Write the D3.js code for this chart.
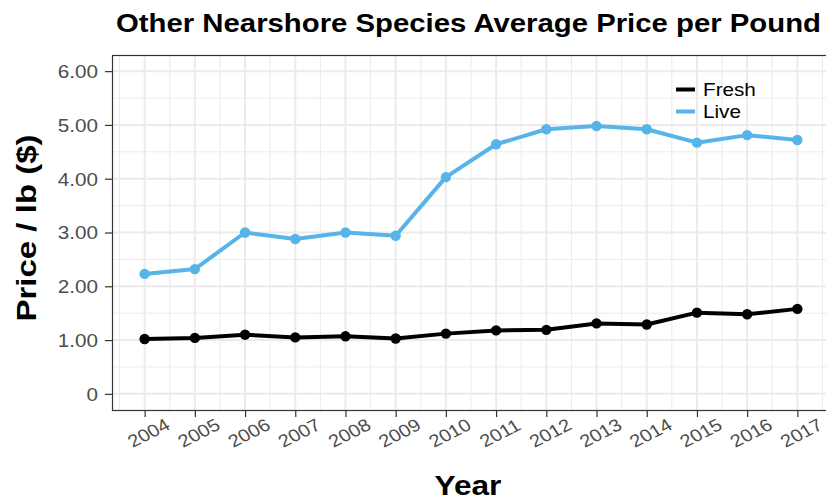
<!DOCTYPE html>
<html><head><meta charset="utf-8">
<script src="https://cdn.jsdelivr.net/npm/d3@7"></script>
<style>body{margin:0;background:#fff;} svg{display:block;font-family:"Liberation Sans",Arial,sans-serif;}</style>
</head><body>
<svg id="c" width="826" height="502"></svg>
<script>
const years = [2004,2005,2006,2007,2008,2009,2010,2011,2012,2013,2014,2015,2016,2017];
const fresh = [1.02,1.04,1.10,1.05,1.07,1.03,1.12,1.18,1.19,1.31,1.29,1.51,1.48,1.58];
const live  = [2.23,2.32,3.00,2.88,3.00,2.94,4.03,4.64,4.92,4.98,4.92,4.67,4.81,4.72];
const seriesNames = ["Fresh","Live"];
const seriesColors = ["#000000","#56B4E9"];
const yTicks = [0,1,2,3,4,5,6];
const yTickLabels = ["0","1.00","2.00","3.00","4.00","5.00","6.00"];
const title = "Other Nearshore Species Average Price per Pound";

const SX = 1.15; // horizontal text stretch seen in the reference
const svg = d3.select("#c");
const L=112, R=830, T=55, B=410;
const x = d3.scaleLinear().domain([2004-0.65, 2017+0.65]).range([L,R]);
const y = d3.scaleLinear().domain([-0.3, 6.3]).range([B,T]);

const g = svg.append("g");
const xMinor = d3.range(2003.5, 2018, 1);
const yMinor = d3.range(0.5, 6.5, 1);
g.selectAll(".xm").data(xMinor).enter().append("line")
 .attr("x1",d=>x(d)).attr("x2",d=>x(d)).attr("y1",T).attr("y2",B)
 .attr("stroke","#ebebeb").attr("stroke-width",1);
g.selectAll(".ym").data(yMinor).enter().append("line")
 .attr("x1",L).attr("x2",R).attr("y1",d=>y(d)).attr("y2",d=>y(d))
 .attr("stroke","#ebebeb").attr("stroke-width",1);
g.selectAll(".xM").data(years).enter().append("line")
 .attr("x1",d=>x(d)).attr("x2",d=>x(d)).attr("y1",T).attr("y2",B)
 .attr("stroke","#ebebeb").attr("stroke-width",2);
g.selectAll(".yM").data(yTicks).enter().append("line")
 .attr("x1",L).attr("x2",R).attr("y1",d=>y(d)).attr("y2",d=>y(d))
 .attr("stroke","#ebebeb").attr("stroke-width",2);

const line = d3.line().x((d,i)=>x(years[i])).y(d=>y(d));
[fresh, live].forEach((s,k)=>{
  g.append("path").datum(s).attr("d",line).attr("fill","none")
   .attr("stroke",seriesColors[k]).attr("stroke-width",4).attr("stroke-linejoin","round");
  g.selectAll(".p"+k).data(s).enter().append("circle")
   .attr("cx",(d,i)=>x(years[i])).attr("cy",d=>y(d)).attr("r",5.2).attr("fill",seriesColors[k]);
});

svg.append("rect").attr("x",L+0.5).attr("y",T+0.5).attr("width",R-L).attr("height",B-T)
 .attr("fill","none").attr("stroke","#333333").attr("stroke-width",1.2);

// y axis
const yAxis = d3.axisLeft(y).tickValues(yTicks).tickFormat((d,i)=>yTickLabels[i]).tickSize(7).tickPadding(0);
const ya = svg.append("g").attr("transform",`translate(${L},0)`).call(yAxis);
ya.select(".domain").remove();
ya.selectAll("line").attr("stroke","#333333").attr("stroke-width",1.2);
ya.selectAll("text").attr("fill","#4d4d4d").style("font-size","18px").style("font-family","Liberation Sans, Arial, sans-serif")
  .attr("x",null).attr("dy",null).attr("dominant-baseline","central")
  .attr("transform",`translate(-14,0) scale(${SX},1)`);

// x axis
const xAxis = d3.axisBottom(x).tickValues(years).tickFormat(d3.format("d")).tickSize(7);
const xa = svg.append("g").attr("transform",`translate(0,${B})`).call(xAxis);
xa.select(".domain").remove();
xa.selectAll("line").attr("stroke","#333333").attr("stroke-width",1.2);
xa.selectAll("text").attr("fill","#4d4d4d").style("font-size","17.5px").style("font-family","Liberation Sans, Arial, sans-serif")
  .attr("text-anchor","middle").attr("dy",null).attr("y",0)
  .attr("transform",`translate(3.5,23) scale(${SX},1) rotate(-30)`).attr("dominant-baseline","central");

// titles
svg.append("text").attr("transform",`translate(468.5,31.5) scale(${SX},1)`).attr("text-anchor","middle")
 .style("font-size","25.5px").style("font-weight","bold").text(title);
svg.append("text").attr("transform",`translate(468,495) scale(${SX},1)`).attr("text-anchor","middle")
 .style("font-size","27.5px").style("font-weight","bold").text("Year");
svg.append("text").attr("transform",`translate(36,228) rotate(-90) scale(1.18,1)`).attr("text-anchor","middle")
 .style("font-size","28px").style("font-weight","bold").text("Price / lb ($)");

// legend
const lg = svg.append("g");
seriesNames.forEach((n,k)=>{
  const yy = 89.5 + k*22;
  lg.append("line").attr("x1",676).attr("x2",695).attr("y1",yy).attr("y2",yy)
   .attr("stroke",seriesColors[k]).attr("stroke-width",4);
  lg.append("text").attr("transform",`translate(703,${yy}) scale(${SX},1)`).attr("dominant-baseline","central")
   .style("font-size","18px").attr("fill","#000").text(n);
});
</script>
</body></html>
